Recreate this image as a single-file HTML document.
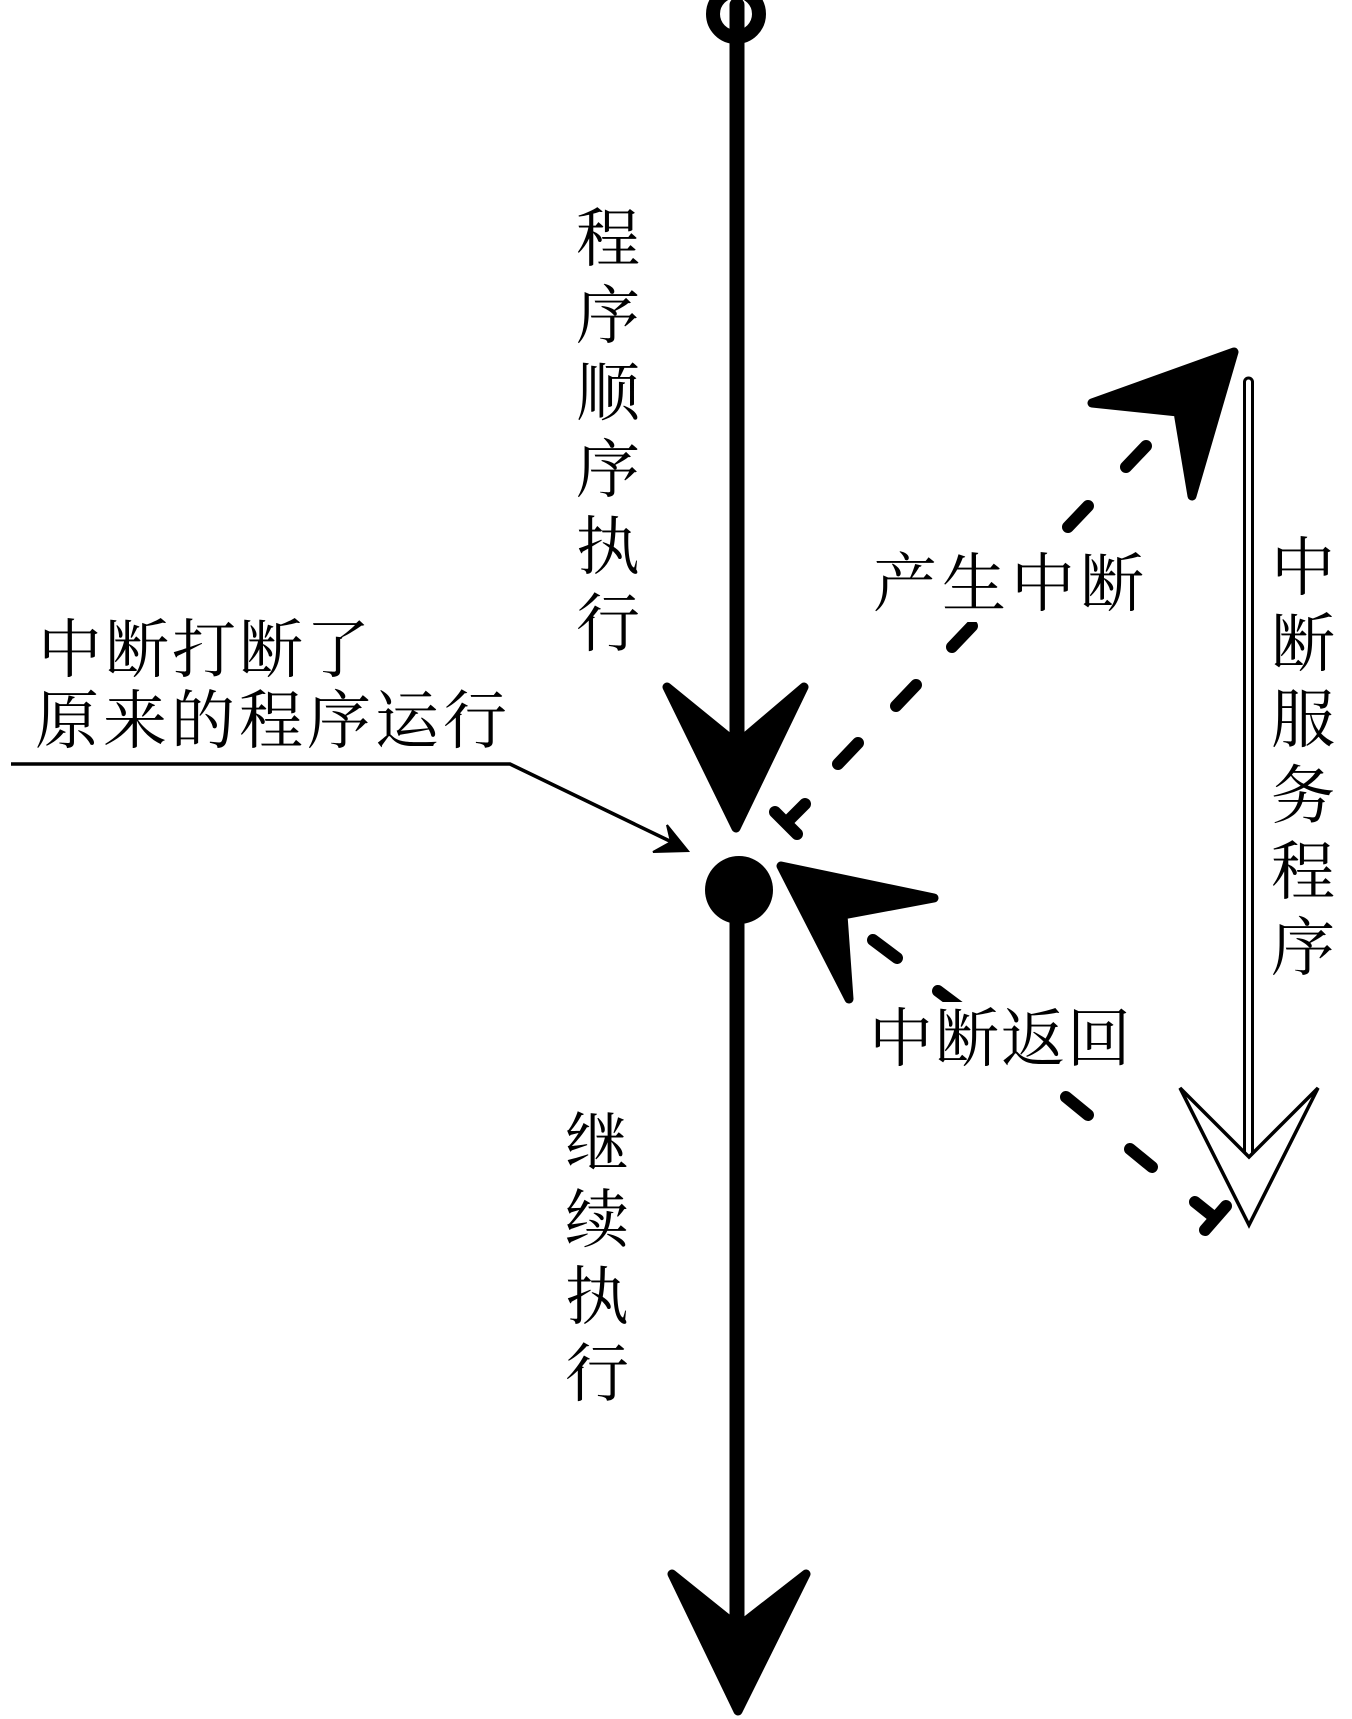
<!DOCTYPE html>
<html><head><meta charset="utf-8"><style>
html,body{margin:0;padding:0;background:#fff;}
svg{display:block;}
text{font-family:"Liberation Serif","Noto Serif CJK SC",serif;font-size:64px;fill:#000;text-anchor:middle;}
</style></head><body>
<svg width="1352" height="1719" viewBox="0 0 1352 1719" xmlns="http://www.w3.org/2000/svg">
<circle cx="736" cy="14" r="23" fill="none" stroke="#000" stroke-width="14"/>
<line x1="737" y1="5" x2="737" y2="745" stroke="#000" stroke-width="15" stroke-linecap="round"/>
<line x1="737" y1="890" x2="737" y2="1630" stroke="#000" stroke-width="15"/>
<polygon points="736,828 667,687 737,744 804,687" fill="#000" stroke="#000" stroke-width="9" stroke-linejoin="round"/>
<polygon points="738,1711 672,1574 738,1627 806,1574" fill="#000" stroke="#000" stroke-width="9" stroke-linejoin="round"/>
<circle cx="739" cy="890" r="34" fill="#000"/>
<polyline points="11,764 510,764 678,845" fill="none" stroke="#000" stroke-width="3.5"/>
<polygon points="688,851 667,825 671,842 653,852" fill="#000" stroke="#000" stroke-width="2" stroke-linejoin="miter"/>
<g stroke="#000" stroke-width="12" stroke-linecap="round">
<line x1="1146" y1="446" x2="1126" y2="467"/>
<line x1="1088" y1="506" x2="1068" y2="527"/>
<line x1="1030" y1="566" x2="1010" y2="587"/>
<line x1="972" y1="626" x2="952" y2="647"/>
<line x1="916" y1="685" x2="896" y2="706"/>
<line x1="858" y1="743" x2="838" y2="764"/>
<line x1="805" y1="804" x2="787" y2="822"/>
<line x1="775" y1="812" x2="797" y2="834"/>
<line x1="873" y1="940" x2="897" y2="958"/>
<line x1="938" y1="991" x2="962" y2="1009"/>
<line x1="1003" y1="1042" x2="1027" y2="1060"/>
<line x1="1066" y1="1097" x2="1088" y2="1115"/>
<line x1="1130" y1="1149" x2="1152" y2="1167"/>
<line x1="1195" y1="1202" x2="1215" y2="1218"/>
<line x1="1226" y1="1206" x2="1205" y2="1230"/>
</g>
<polygon points="1234,352 1092,403 1178,412 1192,496" fill="#000" stroke="#000" stroke-width="9" stroke-linejoin="round"/>
<polygon points="781,866 934,898 843,915 849,999" fill="#000" stroke="#000" stroke-width="9" stroke-linejoin="round"/>
<line x1="1248.5" y1="382" x2="1248.5" y2="1160" stroke="#000" stroke-width="11" stroke-linecap="round"/>
<line x1="1248.5" y1="382" x2="1248.5" y2="1160" stroke="#fff" stroke-width="5" stroke-linecap="round"/>
<polygon points="1180,1088 1249,1157 1318,1088 1249,1225" fill="#fff" stroke="#000" stroke-width="3.5" stroke-linejoin="miter"/>
<rect x="868" y="552" width="280" height="70" fill="#fff"/>
<rect x="864" y="1002" width="272" height="74" fill="#fff"/>
<text x="608" y="261">程</text>
<text x="608" y="338">序</text>
<text x="608" y="415">顺</text>
<text x="608" y="492">序</text>
<text x="608" y="569">执</text>
<text x="608" y="646">行</text>
<text x="70" y="672">中</text>
<text x="137" y="672">断</text>
<text x="204" y="672">打</text>
<text x="271" y="672">断</text>
<text x="338" y="672">了</text>
<text x="67" y="743">原</text>
<text x="135" y="743">来</text>
<text x="203" y="743">的</text>
<text x="271" y="743">程</text>
<text x="339" y="743">序</text>
<text x="407" y="743">运</text>
<text x="475" y="743">行</text>
<text x="905" y="606">产</text>
<text x="974" y="606">生</text>
<text x="1043" y="606">中</text>
<text x="1112" y="606">断</text>
<text x="901" y="1061">中</text>
<text x="967" y="1061">断</text>
<text x="1033" y="1061">返</text>
<text x="1099" y="1061">回</text>
<text x="1303" y="590">中</text>
<text x="1303" y="666">断</text>
<text x="1303" y="742">服</text>
<text x="1303" y="818">务</text>
<text x="1303" y="894">程</text>
<text x="1303" y="970">序</text>
<text x="597" y="1165">继</text>
<text x="597" y="1242">续</text>
<text x="597" y="1319">执</text>
<text x="597" y="1396">行</text>
</svg>
</body></html>
